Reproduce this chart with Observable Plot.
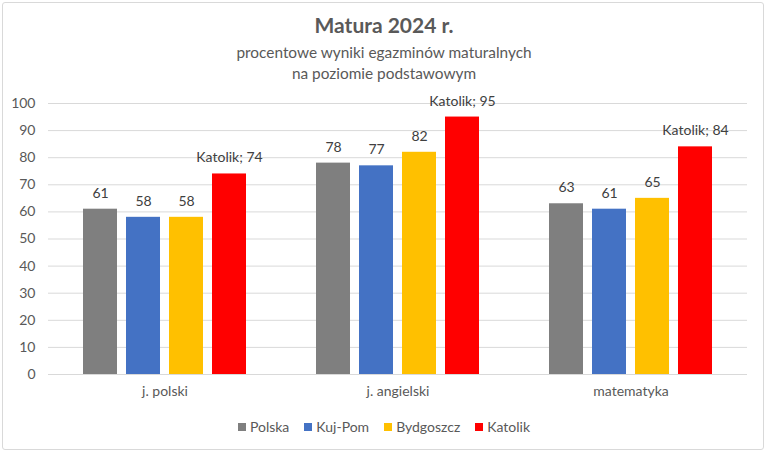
<!DOCTYPE html>
<html><head><meta charset="utf-8">
<script src="https://cdn.jsdelivr.net/npm/d3@7"></script>
<script src="https://cdn.jsdelivr.net/npm/@observablehq/plot@0.6"></script>
<style>
body{margin:0;background:#fff;font-family:Lato,"Open Sans",sans-serif;}
#wrap{position:relative;width:768px;height:454px;overflow:hidden;}
#frame{position:absolute;left:2px;top:2px;width:762px;height:448px;border:1px solid #d9d9d9;border-radius:3px;box-sizing:border-box;}
#title{position:absolute;top:12px;left:0;width:768px;text-align:center;color:#595959;font-size:21px;font-weight:bold;}
#sub{position:absolute;top:42px;left:0;width:768px;text-align:center;color:#595959;font-size:15.4px;line-height:21px;}
#chart{position:absolute;top:88px;left:0;}
#legend{position:absolute;top:418px;left:0;width:768px;display:flex;justify-content:center;gap:15px;color:#595959;font-size:14px;}
#legend span{display:flex;align-items:center;}
#legend i{display:inline-block;width:8px;height:8px;margin-right:4px;}
</style></head>
<body><div id="wrap"><div id="frame"></div>
<div id="title">Matura 2024 r.</div>
<div id="sub">procentowe wyniki egazminów maturalnych<br>na poziomie podstawowym</div>
<div id="chart"></div>
<div id="legend"></div>
</div>
<script>
const subjects = ["j. polski", "j. angielski", "matematyka"];
const series = ["Polska", "Kuj-Pom", "Bydgoszcz", "Katolik"];
const colors = ["#7f7f7f", "#4472c4", "#ffc000", "#ff0000"];
const values = {
  "Polska":    [61, 78, 63],
  "Kuj-Pom":   [58, 77, 61],
  "Bydgoszcz": [58, 82, 65],
  "Katolik":   [74, 95, 84]
};
const yTicks = [0,10,20,30,40,50,60,70,80,90,100];

const data = [];
for (const s of series) subjects.forEach((sub, i) => data.push({subject: sub, series: s, value: values[s][i]}));

const chart = Plot.plot({
  width: 768, height: 320,
  marginLeft: 48, marginRight: 21, marginTop: 15, marginBottom: 34,
  style: {fontFamily: "Lato, sans-serif", fontSize: "14px", color: "#595959", background: "transparent"},
  fx: {domain: subjects, padding: 0, label: null, tickSize: 0, tickPadding: 12},
  x: {domain: series, paddingInner: 0.214, paddingOuter: 0.77, axis: null},
  y: {domain: [0, 100], ticks: yTicks, label: null, tickSize: 0, tickPadding: 13},
  color: {domain: series, range: colors},
  marks: [
    Plot.gridY(yTicks, {stroke: "#d9d9d9", strokeOpacity: 1, facetAnchor: null}),
    Plot.barY(data, {fx: "subject", x: "series", y: "value", fill: "series"}),
    Plot.text(data, {fx: "subject", x: "series", y: "value",
      text: d => d.series === "Katolik" ? `Katolik; ${d.value}` : `${d.value}`,
      dy: -16, fill: "#404040", fontSize: 14})
  ]
});
document.getElementById("chart").appendChild(chart);

const leg = document.getElementById("legend");
series.forEach((s, i) => {
  const sp = document.createElement("span");
  sp.innerHTML = `<i style="background:${colors[i]}"></i>${s}`;
  leg.appendChild(sp);
});
</script></body></html>
